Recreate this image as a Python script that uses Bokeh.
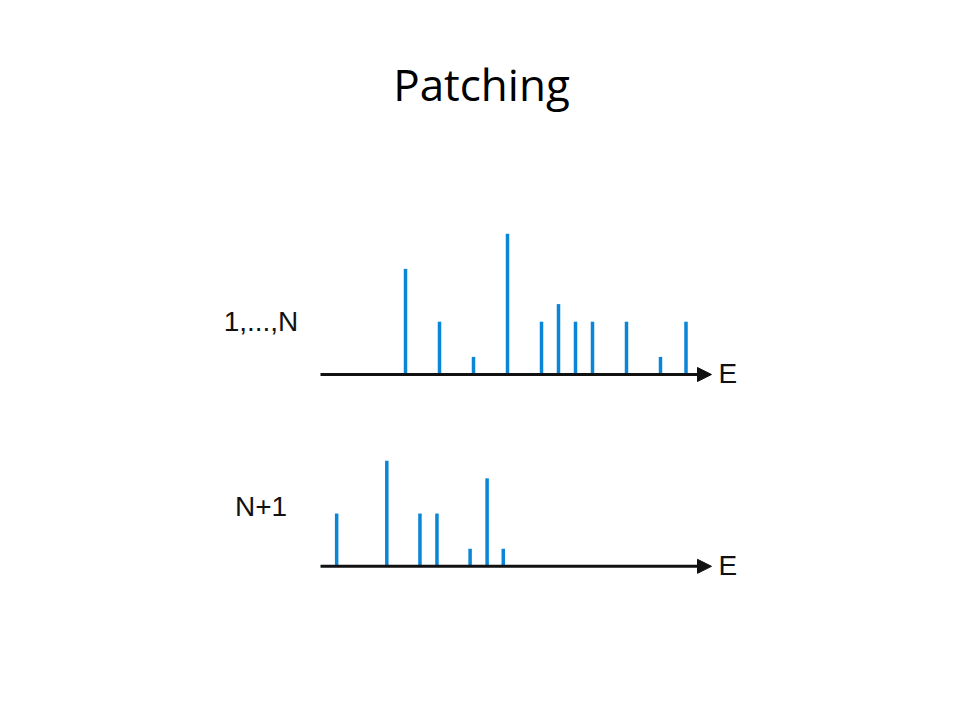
from bokeh.plotting import figure
from bokeh.models import Range1d, Arrow, NormalHead, Label, ColumnDataSource
from bokeh.embed import file_html
from bokeh.resources import INLINE

# ---- data ----
title_text = "Patching"
top_label = "1,...,N"
bottom_label = "N+1"
axis_label = "E"

top_E = [5, 7, 9, 11, 13, 14, 15, 16, 18, 20, 21.5]
top_I = [6, 3, 1, 8, 3, 4, 3, 3, 3, 1, 3]
bottom_E = [0.95, 3.9, 5.85, 6.85, 8.8, 9.8, 10.75]
bottom_I = [3, 6, 3, 3, 1, 5, 1]
E_start, E_end = 0, 23

# ---- layout constants ----
W, H = 944, 704
TOP_BASE = 0.0
BOTTOM_BASE = -10.9
BLUE = "#0a86d8"
INK = "#111111"

p = figure(width=W, height=H, output_backend="svg", toolbar_location=None,
           x_range=Range1d(-18.824, 36.706), y_range=Range1d(-18.75, 21.25),
           x_axis_location=None, y_axis_location=None, min_border=0)
p.grid.visible = False
p.outline_line_color = None
p.background_fill_color = "white"
p.border_fill_color = "white"

for base, Es, Is in [(TOP_BASE, top_E, top_I), (BOTTOM_BASE, bottom_E, bottom_I)]:
    src = ColumnDataSource(dict(x=Es, y0=[base] * len(Es), y1=[base + v for v in Is]))
    p.segment(x0="x", y0="y0", x1="x", y1="y1", source=src,
              line_color=BLUE, line_width=3.5)
    p.add_layout(Arrow(x_start=E_start, y_start=base, x_end=E_end, y_end=base,
                       line_color=INK, line_width=3,
                       end=NormalHead(size=14, fill_color=INK, line_color=INK, line_width=1)))
    p.add_layout(Label(x=E_end, y=base, x_offset=7, y_offset=1, text=axis_label,
                       text_font="Liberation Sans", text_font_size="28px",
                       text_color=INK, text_align="left", text_baseline="alphabetic"))

p.add_layout(Label(x=260.5, y=383.5, x_units="screen", y_units="screen", text=top_label,
                   text_font="Liberation Sans", text_font_size="28px", text_color=INK,
                   text_align="center", text_baseline="alphabetic"))
p.add_layout(Label(x=260.5, y=197.9, x_units="screen", y_units="screen", text=bottom_label,
                   text_font="Liberation Sans", text_font_size="28px", text_color=INK,
                   text_align="center", text_baseline="alphabetic"))
p.add_layout(Label(x=481, y=620.5, x_units="screen", y_units="screen", text=title_text,
                   text_font="Open Sans", text_font_size="44px", text_color="black",
                   text_align="center", text_baseline="alphabetic"))

open("out.html", "w").write(file_html(p, INLINE))
